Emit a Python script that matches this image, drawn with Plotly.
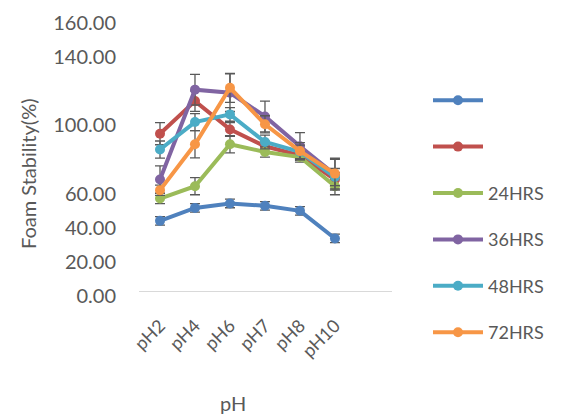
import plotly.graph_objects as go

categories = ["pH2", "pH4", "pH6", "pH7", "pH8", "pH10"]
series_names = [" ", "  ", "24HRS", "36HRS", "48HRS", "72HRS"]
colors = ["#4F81BD", "#C0504D", "#9BBB59", "#8064A2", "#4BACC6", "#F79646"]

blue = [41.1, 48.7, 51.3, 49.9, 47.0, 30.8]
red = [92.2, 111.3, 94.7, 84.8, 79.5, 65.3]
green = [54.2, 61.4, 86.0, 81.5, 78.5, 61.4]
purple = [65.3, 118.0, 116.2, 102.3, 84.8, 68.2]
cyan = [82.9, 99.0, 103.5, 87.3, 81.5, 66.8]
orange = [59.1, 86.0, 119.1, 97.7, 82.0, 68.8]

blue_err = [2.5, 2.5, 2.5, 2.5, 2.5, 2.5]
red_err = [6.5, 6, 4, 3, 3, 4]
green_err = [3, 5, 5, 3, 3, 5]
purple_err = [8, 9, 11, 9, 8, 9]
cyan_err = [5, 5, 4, 4, 4, 5]
orange_err = [3, 8, 8.5, 5, 5, 9]

values = [blue, red, green, purple, cyan, orange]
errors = [blue_err, red_err, green_err, purple_err, cyan_err, orange_err]

ytick_vals = [0, 20, 40, 60, 100, 140, 160]

FONT = "Lato"
GREY = "#595959"

ML, MR, MT, MB = 139, 169, 18, 129
W, H = 561, 420

fig = go.Figure()
for i, (name, col, v, e) in enumerate(zip(series_names, colors, values, errors)):
    fig.add_trace(go.Scatter(
        x=list(range(len(categories))), y=v, name=name, mode="lines+markers",
        line=dict(color=col, width=4),
        marker=dict(color=col, size=10),
        error_y=dict(type="data", array=e, visible=True, color="#595959",
                     thickness=1.3, width=5),
        legendgroup=f"g{i}",
    ))

pw = W - ML - MR
ph = H - MT - MB


def px_to_paper(x, y):
    return (x - ML) / pw, (H - MB - y) / ph


lx, ly = px_to_paper(428, 82)

fig.update_layout(
    width=W, height=H,
    margin=dict(l=ML, r=MR, t=MT, b=MB, autoexpand=False),
    paper_bgcolor="white", plot_bgcolor="white",
    font=dict(family=FONT, color=GREY),
    showlegend=True,
    legend=dict(
        x=lx, y=ly, xanchor="left", yanchor="top",
        font=dict(family=FONT, size=18, color=GREY),
        traceorder="grouped", tracegroupgap=20,
        itemwidth=50, maxheight=400,
        bgcolor="rgba(0,0,0,0)",
    ),
    xaxis=dict(
        range=[-0.6, 6.63], automargin=False,
        tickmode="array", tickvals=list(range(len(categories))), ticktext=categories,
        tickangle=-45, tickfont=dict(family=FONT, size=18, color=GREY),
        showline=True, linecolor="#D9D9D9", linewidth=1.3,
        showgrid=False, zeroline=False, ticks="",
        ticklabelstandoff=16,
    ),
    yaxis=dict(
        range=[0, 160], automargin=False,
        tickmode="array", tickvals=ytick_vals, tickformat=".2f",
        tickfont=dict(family=FONT, size=20, color=GREY),
        showline=False, showgrid=False, zeroline=False, ticks="",
        ticklabelstandoff=22, ticklabelshift=5,
    ),
)

tx, ty = px_to_paper(28, 174)
px_, py_ = px_to_paper(233, 403)
fig.add_annotation(text="Foam Stability(%)", x=tx, y=ty, xref="paper", yref="paper",
                   showarrow=False, textangle=-90, xanchor="center", yanchor="middle",
                   font=dict(family=FONT, size=20, color=GREY))
fig.add_annotation(text="pH", x=px_, y=py_, xref="paper", yref="paper",
                   showarrow=False, xanchor="center", yanchor="middle",
                   font=dict(family=FONT, size=20, color=GREY))

fig.write_html("out.html", config={"displayModeBar": False},
               post_script="document.body.style.margin='0';")
